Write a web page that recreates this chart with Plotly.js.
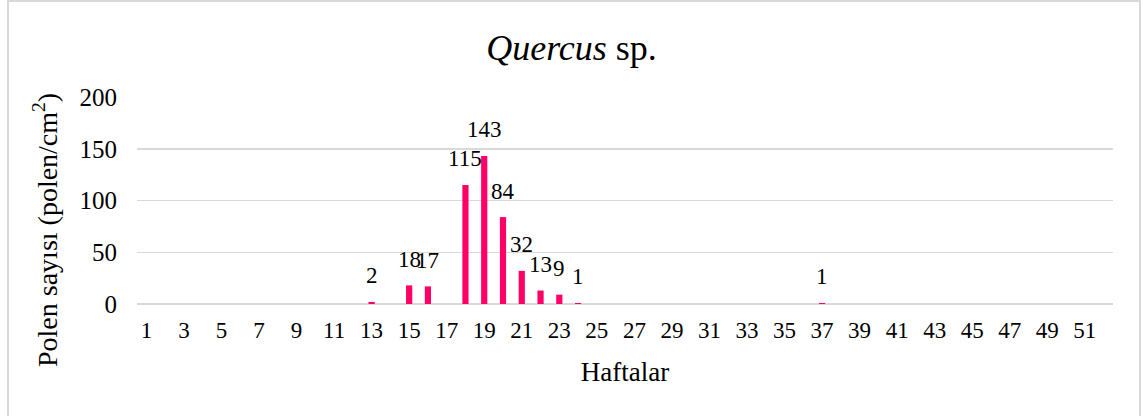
<!DOCTYPE html>
<html>
<head>
<meta charset="utf-8">
<script src="https://cdn.plot.ly/plotly-3.0.1.min.js"></script>
<style>
html,body{margin:0;padding:0;background:#fff;}
#wrap{position:relative;width:1143px;height:416px;overflow:hidden;}
#frame{position:absolute;left:7px;top:0px;width:1134px;height:420px;border:2px solid #d9d9d9;box-sizing:border-box;pointer-events:none;}
#chart{position:absolute;left:0;top:0;width:1143px;height:416px;}
</style>
</head>
<body>
<div id="wrap">
<div id="chart"></div>
<div id="frame"></div>
</div>
<script>
const weeks = Array.from({length: 52}, (_, i) => i + 1);
const nonZeroWeeks = [13, 15, 16, 18, 19, 20, 21, 22, 23, 24, 37];
const nonZeroValues = [2, 18, 17, 115, 143, 84, 32, 13, 9, 1, 1];
const values = weeks.map(w => {
  const k = nonZeroWeeks.indexOf(w);
  return k >= 0 ? nonZeroValues[k] : 0;
});
const tickWeeks = weeks.filter(w => w % 2 === 1);
const tickLabels = tickWeeks.map(String);
const yTitle = 'Polen sayısı (polen/cm<sup>2</sup>)';

const font = 'Liberation Serif, Times New Roman, serif';

const trace = {
  type: 'bar',
  x: weeks,
  y: values,
  marker: {color: '#FF0066'},
  hoverinfo: 'x+y'
};

const valueLabels = nonZeroWeeks.map((w, i) => ({
  x: w, y: nonZeroValues[i], xref: 'x', yref: 'y',
  text: String(nonZeroValues[i]),
  showarrow: false,
  xanchor: 'center', yanchor: 'middle',
  yshift: 26,
  font: {family: font, size: 23, color: '#000'}
}));

const layout = {
  width: 1143,
  height: 416,
  margin: {l: 137, r: 30, t: 97, b: 112},
  paper_bgcolor: 'rgba(0,0,0,0)',
  plot_bgcolor: '#fff',
  bargap: 0.67,
  showlegend: false,
  font: {family: font, color: '#000'},
  title: {
    text: '<i>Quercus</i> sp.',
    font: {family: font, size: 36, color: '#000'},
    x: 0.5, xanchor: 'center',
    y: 1 - 47/416, yanchor: 'middle', yref: 'container'
  },
  xaxis: {
    range: [0.5, 52.5],
    tickmode: 'array',
    tickvals: tickWeeks,
    ticktext: tickLabels,
    showgrid: false,
    zeroline: false,
    showline: false,
    ticks: '',
    ticklabelstandoff: 10,
    tickfont: {family: font, size: 23, color: '#000'},
    title: {text: 'Haftalar', font: {family: font, size: 27, color: '#000'}, standoff: 20}
  },
  yaxis: {
    range: [0, 200],
    tickvals: [0, 50, 100, 150, 200],
    showgrid: true,
    gridcolor: '#d9d9d9',
    gridwidth: 1.5,
    zeroline: true,
    zerolinecolor: '#d9d9d9',
    zerolinewidth: 1.5,
    showline: false,
    ticks: '',
    ticklabelstandoff: 19,
    tickfont: {family: font, size: 25, color: '#000'}
  },
  annotations: valueLabels.concat([{
    text: yTitle,
    xref: 'paper', yref: 'paper',
    x: (45 - 137) / 976, y: (304 - 230) / 207,
    xanchor: 'center', yanchor: 'middle',
    textangle: -90,
    showarrow: false,
    font: {family: font, size: 28, color: '#000'}
  }])
};

Plotly.newPlot('chart', [trace], layout, {displayModeBar: false, staticPlot: true});
</script>
</body>
</html>
